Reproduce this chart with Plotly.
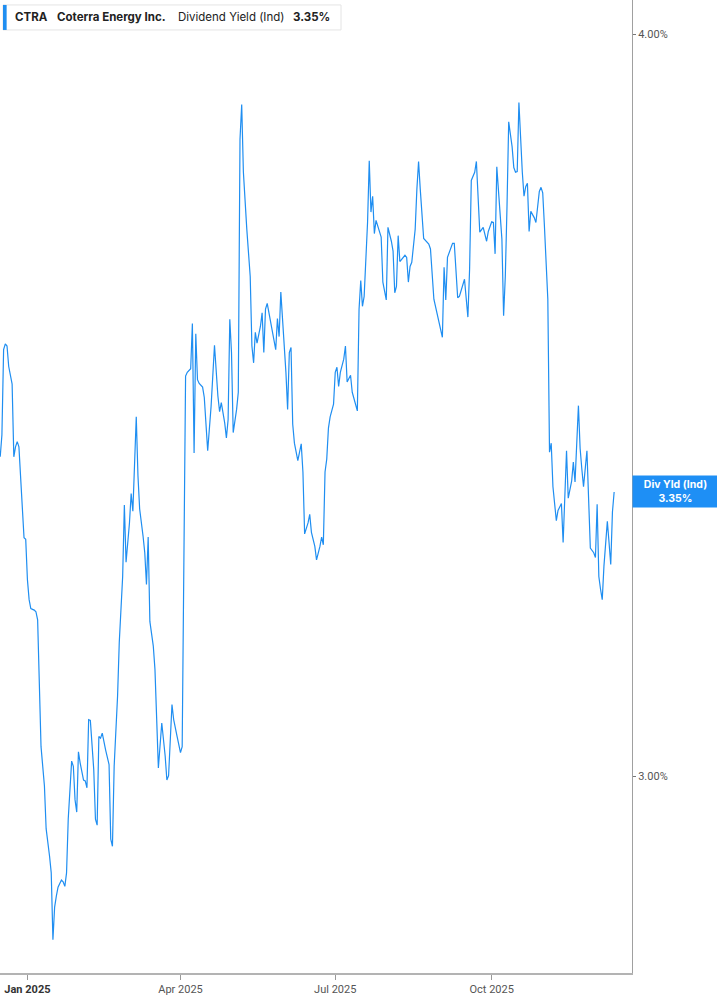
import numpy as np
import plotly.graph_objects as go

# ==============================
# DATA
# ==============================

# dividend yield, indicated (%), CTRA
dates = [
    "2024-12-16", "2024-12-17", "2024-12-18", "2024-12-19", "2024-12-20", "2024-12-21",
    "2024-12-23", "2024-12-24", "2024-12-25", "2024-12-26", "2024-12-27", "2024-12-28",
    "2024-12-30", "2024-12-31", "2025-01-01", "2025-01-02", "2025-01-03", "2025-01-05",
    "2025-01-06", "2025-01-07", "2025-01-08", "2025-01-09", "2025-01-11", "2025-01-12",
    "2025-01-14", "2025-01-15", "2025-01-16", "2025-01-17", "2025-01-18", "2025-01-19",
    "2025-01-21", "2025-01-22", "2025-01-23", "2025-01-24", "2025-01-25", "2025-01-27",
    "2025-01-28", "2025-01-29", "2025-01-30", "2025-01-31", "2025-02-01", "2025-02-03",
    "2025-02-04", "2025-02-05", "2025-02-06", "2025-02-07", "2025-02-09", "2025-02-10",
    "2025-02-11", "2025-02-12", "2025-02-13", "2025-02-14", "2025-02-16", "2025-02-18",
    "2025-02-19", "2025-02-20", "2025-02-21", "2025-02-23", "2025-02-24", "2025-02-26",
    "2025-02-27", "2025-02-28", "2025-03-02", "2025-03-03", "2025-03-04", "2025-03-05",
    "2025-03-06", "2025-03-07", "2025-03-08", "2025-03-10", "2025-03-11", "2025-03-12",
    "2025-03-13", "2025-03-14", "2025-03-16", "2025-03-17", "2025-03-18", "2025-03-19",
    "2025-03-21", "2025-03-23", "2025-03-24", "2025-03-25", "2025-03-27", "2025-03-28",
    "2025-03-30", "2025-04-01", "2025-04-02", "2025-04-04", "2025-04-05", "2025-04-07",
    "2025-04-08", "2025-04-09", "2025-04-10", "2025-04-11", "2025-04-12", "2025-04-14",
    "2025-04-15", "2025-04-17", "2025-04-19", "2025-04-21", "2025-04-23", "2025-04-24",
    "2025-04-25", "2025-04-27", "2025-04-28", "2025-04-29", "2025-04-30", "2025-05-01",
    "2025-05-02", "2025-05-04", "2025-05-05", "2025-05-06", "2025-05-07", "2025-05-08",
    "2025-05-10", "2025-05-12", "2025-05-13", "2025-05-14", "2025-05-15", "2025-05-16",
    "2025-05-18", "2025-05-19", "2025-05-20", "2025-05-21", "2025-05-22", "2025-05-24",
    "2025-05-26", "2025-05-27", "2025-05-28", "2025-05-29", "2025-05-30", "2025-05-31",
    "2025-06-01", "2025-06-02", "2025-06-03", "2025-06-04", "2025-06-05", "2025-06-06",
    "2025-06-07", "2025-06-09", "2025-06-11", "2025-06-12", "2025-06-13", "2025-06-15",
    "2025-06-16", "2025-06-17", "2025-06-19", "2025-06-20", "2025-06-22", "2025-06-23",
    "2025-06-24", "2025-06-25", "2025-06-26", "2025-06-27", "2025-06-28", "2025-06-30",
    "2025-07-01", "2025-07-02", "2025-07-03", "2025-07-04", "2025-07-06", "2025-07-07",
    "2025-07-08", "2025-07-10", "2025-07-11", "2025-07-14", "2025-07-15", "2025-07-16",
    "2025-07-17", "2025-07-18", "2025-07-20", "2025-07-21", "2025-07-22", "2025-07-23",
    "2025-07-24", "2025-07-25", "2025-07-28", "2025-07-29", "2025-07-31", "2025-08-01",
    "2025-08-03", "2025-08-04", "2025-08-05", "2025-08-06", "2025-08-07", "2025-08-08",
    "2025-08-11", "2025-08-12", "2025-08-13", "2025-08-14", "2025-08-15", "2025-08-17",
    "2025-08-18", "2025-08-19", "2025-08-20", "2025-08-22", "2025-08-25", "2025-08-26",
    "2025-08-28", "2025-09-02", "2025-09-03", "2025-09-04", "2025-09-05", "2025-09-08",
    "2025-09-09", "2025-09-11", "2025-09-12", "2025-09-15", "2025-09-17", "2025-09-18",
    "2025-09-19", "2025-09-21", "2025-09-22", "2025-09-23", "2025-09-24", "2025-09-26",
    "2025-09-28", "2025-09-29", "2025-10-01", "2025-10-02", "2025-10-03", "2025-10-04",
    "2025-10-06", "2025-10-07", "2025-10-08", "2025-10-09", "2025-10-10", "2025-10-11",
    "2025-10-13", "2025-10-14", "2025-10-15", "2025-10-16", "2025-10-17", "2025-10-18",
    "2025-10-19", "2025-10-20", "2025-10-21", "2025-10-22", "2025-10-23", "2025-10-24",
    "2025-10-26", "2025-10-27", "2025-10-29", "2025-10-30", "2025-10-31", "2025-11-01",
    "2025-11-02", "2025-11-03", "2025-11-04", "2025-11-05", "2025-11-06", "2025-11-08",
    "2025-11-09", "2025-11-11", "2025-11-12", "2025-11-14", "2025-11-15", "2025-11-17",
    "2025-11-18", "2025-11-19", "2025-11-21", "2025-11-22", "2025-11-23", "2025-11-24",
    "2025-11-26", "2025-11-27", "2025-11-28", "2025-11-30", "2025-12-01", "2025-12-02",
    "2025-12-03", "2025-12-04", "2025-12-05", "2025-12-06", "2025-12-08", "2025-12-09",
    "2025-12-10", "2025-12-11", "2025-12-12",
]

div_yield = [
    3.396, 3.425, 3.540, 3.548, 3.545, 3.517,
    3.493, 3.396, 3.409, 3.416, 3.409, 3.363,
    3.291, 3.289, 3.238, 3.213, 3.202, 3.200,
    3.198, 3.188, 3.095, 3.035, 2.989, 2.940,
    2.909, 2.890, 2.816, 2.852, 2.864, 2.874,
    2.882, 2.880, 2.875, 2.890, 2.951, 3.018,
    3.012, 2.973, 2.959, 3.029, 3.016, 2.996,
    2.995, 2.987, 3.067, 3.066, 3.008, 2.951,
    2.944, 3.047, 3.045, 3.051, 3.031, 3.014,
    2.928, 2.920, 3.012, 3.095, 3.160, 3.242,
    3.333, 3.260, 3.310, 3.348, 3.325, 3.380,
    3.449, 3.371, 3.328, 3.293, 3.272, 3.232,
    3.292, 3.186, 3.156, 3.127, 3.055, 3.010,
    3.063, 3.024, 2.996, 3.001, 3.085, 3.067,
    3.047, 3.028, 3.035, 3.504, 3.509, 3.514,
    3.576, 3.401, 3.562, 3.499, 3.494, 3.489,
    3.475, 3.404, 3.463, 3.546, 3.477, 3.456,
    3.468, 3.441, 3.421, 3.445, 3.582, 3.536,
    3.428, 3.459, 3.482, 3.841, 3.893, 3.792,
    3.709, 3.642, 3.545, 3.522, 3.564, 3.549,
    3.572, 3.591, 3.536, 3.596, 3.604, 3.578,
    3.557, 3.540, 3.583, 3.558, 3.620, 3.586,
    3.543, 3.509, 3.459, 3.536, 3.543, 3.439,
    3.414, 3.391, 3.413, 3.376, 3.296, 3.310,
    3.321, 3.298, 3.280, 3.263, 3.280, 3.292,
    3.282, 3.376, 3.393, 3.434, 3.449, 3.466,
    3.509, 3.516, 3.490, 3.509, 3.527, 3.545,
    3.496, 3.505, 3.482, 3.457, 3.596, 3.636,
    3.600, 3.614, 3.719, 3.809, 3.734, 3.757,
    3.703, 3.722, 3.698, 3.634, 3.609, 3.712,
    3.692, 3.678, 3.619, 3.628, 3.700, 3.663,
    3.672, 3.669, 3.634, 3.656, 3.662, 3.709,
    3.767, 3.808, 3.767, 3.696, 3.688, 3.681,
    3.610, 3.557, 3.655, 3.609, 3.669, 3.689,
    3.689, 3.612, 3.614, 3.638, 3.585, 3.652,
    3.780, 3.792, 3.808, 3.752, 3.705, 3.712,
    3.692, 3.706, 3.720, 3.719, 3.674, 3.800,
    3.734, 3.695, 3.587, 3.642, 3.742, 3.867,
    3.830, 3.799, 3.792, 3.793, 3.896, 3.841,
    3.792, 3.757, 3.771, 3.776, 3.706, 3.735,
    3.726, 3.719, 3.764, 3.770, 3.762, 3.714,
    3.666, 3.610, 3.402, 3.414, 3.357, 3.313,
    3.326, 3.335, 3.285, 3.404, 3.342, 3.364,
    3.389, 3.363, 3.464, 3.407, 3.380, 3.357,
    3.404, 3.331, 3.278, 3.272, 3.266, 3.334,
    3.242, 3.226, 3.213, 3.255, 3.312, 3.285,
    3.257, 3.324, 3.350,
]

# axis ticks
x_tickvals = ["2025-01-01", "2025-04-01", "2025-07-01", "2025-10-01"]
x_ticktext = ["<b><span style='color:#333'>Jan 2025</span></b>", "Apr 2025", "Jul 2025", "Oct 2025"]
y_tickvals = [3.0, 4.0]
y_ticktext = ["3.00%", "4.00%"]

# header pieces
ticker = "CTRA"
company = "Coterra Energy Inc."
metric = "Dividend Yield (Ind)"
last_value = div_yield[-1]

LINE_BLUE = "#1f8ef1"

# ==============================
# FIGURE
# ==============================
fig = go.Figure()

fig.add_trace(go.Scatter(
    x=dates, y=div_yield, mode="lines",
    line=dict(color=LINE_BLUE, width=1.2),
    hoverinfo="skip", showlegend=False,
))

fig.update_layout(
    width=717, height=1005,
    margin=dict(l=0, r=85, t=0, b=32),
    paper_bgcolor="white", plot_bgcolor="white",
    font=dict(family="Roboto, Inter, sans-serif", color="#555", size=11),
    showlegend=False,
)

fig.update_xaxes(
    type="date",
    range=["2024-12-15 21:00", "2025-12-22 12:00"],
    tickmode="array", tickvals=x_tickvals, ticktext=x_ticktext,
    ticks="outside", ticklen=5, tickcolor="#999", tickwidth=1,
    showline=True, linecolor="#b3b3b3", linewidth=2,
    showgrid=False, zeroline=False,
    tickfont=dict(size=11, color="#555"),
)

fig.update_yaxes(
    type="log", side="right",
    range=[np.log10(2.780), np.log10(4.054)],
    tickmode="array", tickvals=y_tickvals, ticktext=y_ticktext,
    ticks="outside", ticklen=3, tickcolor="#777", tickwidth=1,
    showline=True, linecolor="#a0a0a0", linewidth=1,
    showgrid=False, zeroline=False,
    tickfont=dict(size=11, color="#555"),
)

# header box at top-left
fig.add_shape(type="rect", xref="paper", yref="paper",
              x0=0.0047, x1=0.5396, y0=0.9692, y1=0.9949,
              line=dict(color="#e4e4e4", width=1), fillcolor="white", layer="above")
fig.add_shape(type="rect", xref="paper", yref="paper",
              x0=0.0047, x1=0.0105, y0=0.9692, y1=0.9949,
              line=dict(width=0), fillcolor=LINE_BLUE, layer="above")

header_parts = [
    (0.0206, "<b>" + ticker + "</b>"),
    (0.0870, "<b>" + company + "</b>"),
    (0.2785, metric),
    (0.4604, "<b>" + f"{last_value:.2f}%" + "</b>"),
]
for xpos, txt in header_parts:
    fig.add_annotation(xref="paper", yref="paper", x=xpos, y=0.9822,
                       xanchor="left", yanchor="middle", showarrow=False,
                       text=txt, font=dict(family="Inter, sans-serif", size=11.5, color="#222"))

# last value tag on the right axis
fig.add_annotation(xref="paper", yref="y", x=1.0, y=np.log10(last_value),
                   xanchor="left", yanchor="middle", showarrow=False,
                   text="<b>Div Yld (Ind)</b><br><b>" + f"{last_value:.2f}%" + "</b>",
                   font=dict(family="Inter, sans-serif", size=10.5, color="white"),
                   bgcolor="#1e8ff5", borderpad=2, width=81, align="center")

# drop the default page margin so the chart sits at the window's top-left corner
fig.write_html("out.html", config={"displayModeBar": False},
               post_script="document.body.style.margin='0';")
